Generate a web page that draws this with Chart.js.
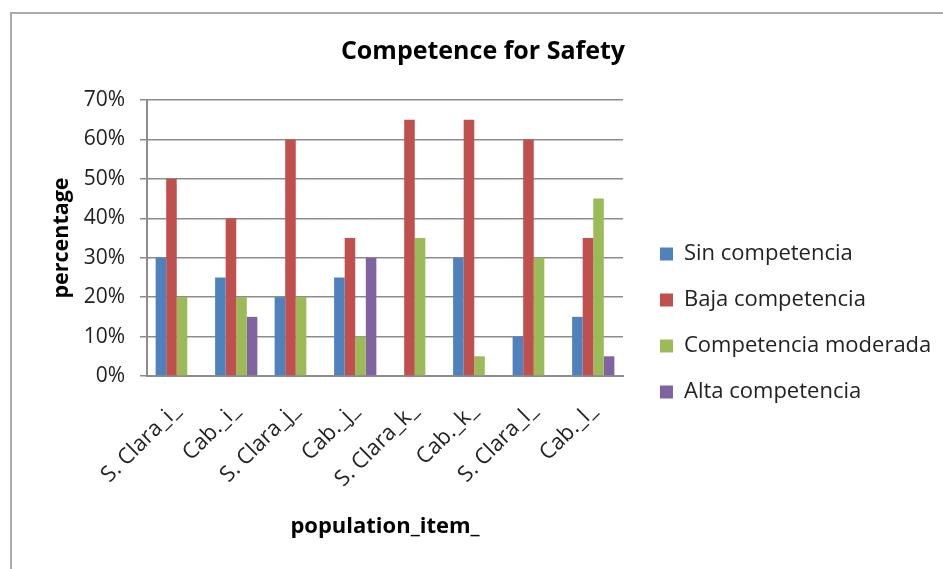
<!DOCTYPE html>
<html>
<head>
<meta charset="utf-8">
<script src="https://cdn.jsdelivr.net/npm/chart.js@4"></script>
<style>
  html, body { margin: 0; padding: 0; background: #fff; }
  #wrap { position: relative; width: 943px; height: 569px; overflow: hidden; }
  #frame { position: absolute; left: 10px; top: 12px; width: 950px; height: 600px;
           border-left: 2px solid #ababab; border-top: 2px solid #ababab; }
  canvas { position: absolute; left: 0; top: 0; }
</style>
</head>
<body>
<div id="wrap">
  <div id="frame"></div>
  <canvas id="c" width="943" height="569"></canvas>
</div>
<script>
const categories = ["S. Clara_i_", "Cab._i_", "S. Clara_j_", "Cab._j_", "S. Clara_k_", "Cab._k_", "S. Clara_l_", "Cab._l_"];
const sinCompetencia = [30, 25, 20, 25, 0, 30, 10, 15];
const bajaCompetencia = [50, 40, 60, 35, 65, 65, 60, 35];
const competenciaModerada = [20, 20, 20, 10, 35, 5, 30, 45];
const altaCompetencia = [0, 15, 0, 30, 0, 0, 0, 5];
const seriesNames = ["Sin competencia", "Baja competencia", "Competencia moderada", "Alta competencia"];
const yTicks = [0, 10, 20, 30, 40, 50, 60, 70];

const FONT = "'Open Sans', sans-serif";
const colors = ["#4F81BD", "#C0504D", "#9BBB59", "#8064A2"];
const seriesData = [sinCompetencia, bajaCompetencia, competenciaModerada, altaCompetencia];

const boxPlacer = {
  id: 'boxPlacer',
  afterLayout(chart) {
    const l = chart.legend;
    if (l) {
      l.left = 636; l.right = 943;
      l.top = 219; l.bottom = 569;
      l.width = l.right - l.left; l.height = l.bottom - l.top;
    }
    const t = chart.titleBlock;
    if (t) {
      t.left = 23; t.right = 943; t.width = t.right - t.left;
    }
  }
};

new Chart(document.getElementById('c'), {
  type: 'bar',
  data: {
    labels: categories,
    datasets: seriesData.map((d, i) => ({
      label: seriesNames[i],
      data: d,
      backgroundColor: colors[i],
      borderWidth: 0,
      categoryPercentage: 0.71,
      barPercentage: 1.0
    }))
  },
  plugins: [boxPlacer],
  options: {
    responsive: false,
    animation: false,
    devicePixelRatio: 1,
    layout: { padding: { left: 0, right: 120, top: 0, bottom: 0 } },
    plugins: {
      title: {
        display: true,
        text: "Competence for Safety",
        color: "#000",
        font: { family: FONT, size: 25, weight: 'bold' },
        padding: { top: 37, bottom: 33 }
      },
      legend: {
        position: 'right',
        align: 'start',
        maxWidth: 200,
        labels: {
          color: "#222",
          font: { family: FONT, size: 22 },
          boxWidth: 13,
          boxHeight: 13,
          padding: 24
        }
      },
      tooltip: { enabled: false }
    },
    scales: {
      x: {
        grid: { display: false },
        border: { display: true, color: "#8c8c8c", width: 2 },
        ticks: {
          color: "#222",
          font: { family: FONT, size: 22 },
          minRotation: 45,
          maxRotation: 45,
          autoSkip: false,
          padding: 14
        },
        title: {
          display: true,
          text: "population_item_",
          color: "#000",
          font: { family: FONT, size: 22, weight: 'bold' },
          padding: { top: 0, bottom: 29 }
        },
        afterFit(scale) { scale.height = 193; }
      },
      y: {
        min: 0,
        max: 70,
        afterBuildTicks(scale) { scale.ticks = yTicks.map(v => ({ value: v })); },
        grid: { color: "#8c8c8c", lineWidth: 1.5, tickLength: 7, drawTicks: true },
        border: { display: true, color: "#8c8c8c", width: 2 },
        ticks: {
          color: "#222",
          font: { family: FONT, size: 21 },
          padding: 15,
          callback: v => v + "%"
        },
        title: {
          display: true,
          text: "percentage",
          color: "#000",
          font: { family: FONT, size: 21.5, weight: 'bold' },
          padding: { top: 49, bottom: 0 }
        },
        afterFit(scale) { scale.width = 147; }
      }
    }
  }
});
</script>
</body>
</html>
